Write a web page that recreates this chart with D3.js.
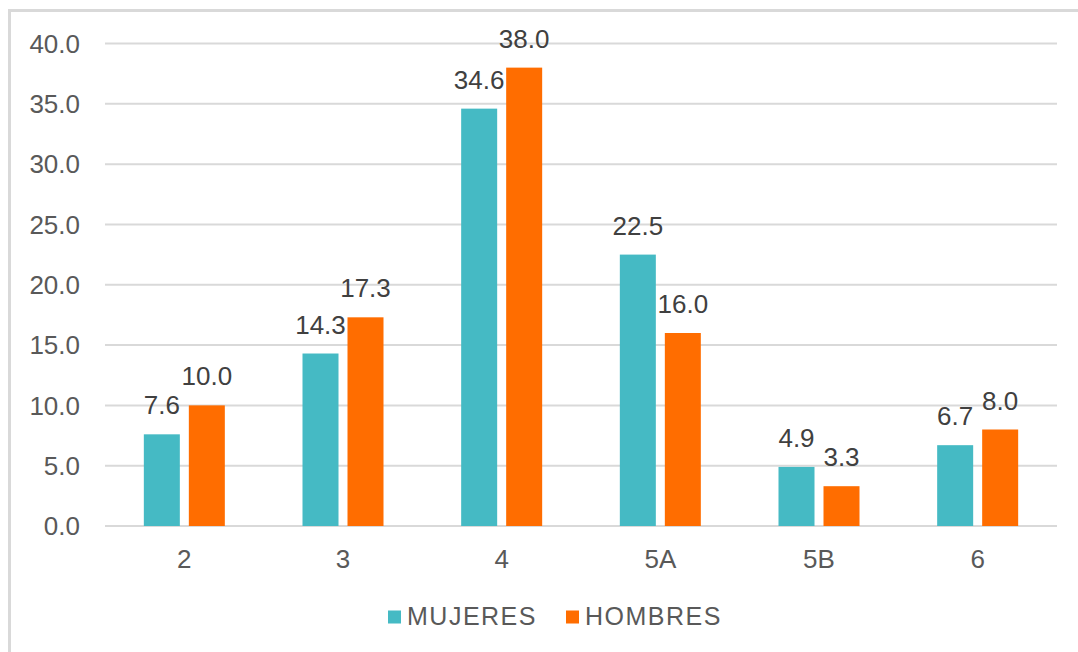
<!DOCTYPE html>
<html>
<head>
<meta charset="utf-8">
<script src="https://cdn.jsdelivr.net/npm/d3@7"></script>
<style>
  body { margin: 0; background: #fff; }
  svg { display: block; font-family: "Liberation Sans", Arial, sans-serif; }
</style>
</head>
<body>
<div id="chart"></div>
<script>
// Data
const categories = ["2", "3", "4", "5A", "5B", "6"];
const mujeres = [7.6, 14.3, 34.6, 22.5, 4.9, 6.7];
const hombres = [10.0, 17.3, 38.0, 16.0, 3.3, 8.0];
const seriesNames = ["MUJERES", "HOMBRES"];
const yTicks = [0, 5, 10, 15, 20, 25, 30, 35, 40];

const colors = ["#45BAC4", "#FF6D00"];
const W = 1078, H = 652;
const plot = { left: 105, right: 1057, top: 43.5, bottom: 526 };

const svg = d3.select("#chart").append("svg")
  .attr("width", W)
  .attr("height", H);

// chart frame (only left and top visible)
svg.append("rect")
  .attr("x", 9.5).attr("y", 10.5)
  .attr("width", W + 20).attr("height", H + 20)
  .attr("fill", "#fff")
  .attr("stroke", "#D9D9D9")
  .attr("stroke-width", 3);

const x = d3.scaleBand()
  .domain(categories)
  .range([plot.left, plot.right]);

const y = d3.scaleLinear()
  .domain([0, 40])
  .range([plot.bottom, plot.top]);

// gridlines
svg.append("g")
  .selectAll("line")
  .data(yTicks)
  .join("line")
  .attr("x1", plot.left).attr("x2", plot.right)
  .attr("y1", d => y(d)).attr("y2", d => y(d))
  .attr("stroke", "#D9D9D9")
  .attr("stroke-width", 2);

// y axis labels
svg.append("g")
  .selectAll("text")
  .data(yTicks)
  .join("text")
  .attr("x", 80)
  .attr("y", d => y(d))
  .attr("dy", "0.36em")
  .attr("text-anchor", "end")
  .attr("fill", "#595959")
  .style("font-size", "26px")
  .text(d => d.toFixed(1));

// x axis labels
svg.append("g")
  .selectAll("text")
  .data(categories)
  .join("text")
  .attr("x", d => x(d) + x.bandwidth() / 2)
  .attr("y", 568)
  .attr("text-anchor", "middle")
  .attr("fill", "#595959")
  .style("font-size", "26px")
  .text(d => d);

// bars
const barW = 36, gap = 9;
const series = [mujeres, hombres];
series.forEach((vals, s) => {
  const offset = s === 0 ? -gap / 2 - barW : gap / 2;
  const g = svg.append("g");
  g.selectAll("rect")
    .data(vals)
    .join("rect")
    .attr("x", (d, i) => x(categories[i]) + x.bandwidth() / 2 + offset)
    .attr("y", d => y(d))
    .attr("width", barW)
    .attr("height", d => y(0) - y(d))
    .attr("fill", colors[s]);

  g.selectAll("text")
    .data(vals)
    .join("text")
    .attr("x", (d, i) => x(categories[i]) + x.bandwidth() / 2 + offset + barW / 2)
    .attr("y", d => y(d) - 20)
    .attr("text-anchor", "middle")
    .attr("fill", "#404040")
    .style("font-size", "26px")
    .text(d => d.toFixed(1));
});

// legend
const legendX = [388, 566];
const legend = svg.append("g");
seriesNames.forEach((name, i) => {
  legend.append("rect")
    .attr("x", legendX[i]).attr("y", 610.5)
    .attr("width", 13).attr("height", 13)
    .attr("fill", colors[i]);
  legend.append("text")
    .attr("x", legendX[i] + 19)
    .attr("y", 625)
    .attr("fill", "#595959")
    .style("font-size", "25px")
    .style("letter-spacing", "1.5px")
    .text(name);
});
</script>
</body>
</html>
